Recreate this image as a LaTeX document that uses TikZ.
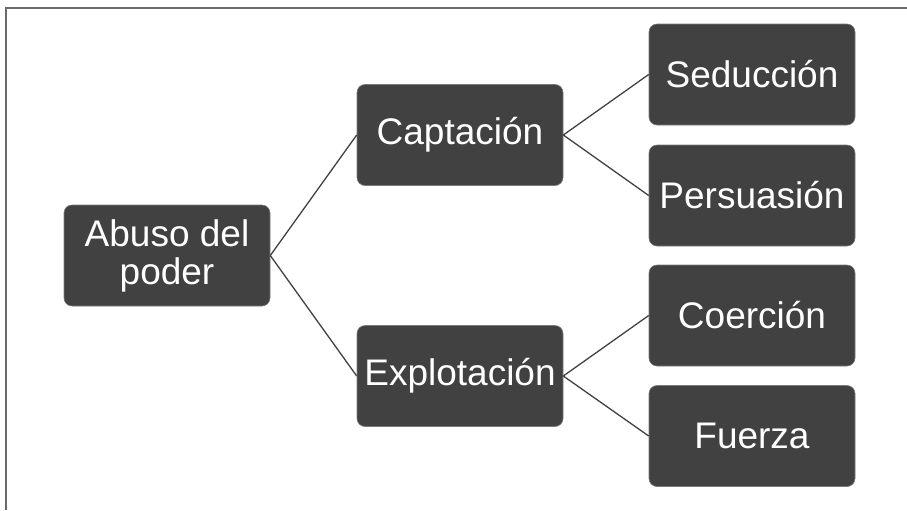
\documentclass[tikz,border=0pt]{standalone}
\usepackage{fontspec}
\setmainfont{Liberation Sans}
\usepackage{tikz}
\definecolor{boxgray}{HTML}{414141}
\definecolor{framegray}{HTML}{6A6A6A}
\tikzset{box/.style={draw=boxgray!70!white, line width=0.3pt, fill=boxgray, rounded corners=4pt, minimum width=103pt, minimum height=50.5pt, inner sep=0pt, align=center, text=white, font=\fontsize{18.5}{19}\selectfont}, link/.style={draw=boxgray, line width=0.65pt}, frame/.style={draw=framegray, line width=0.8pt}}

\begin{document}
\begin{tikzpicture}[x=0.5pt, y=-0.5pt]
    \useasboundingbox (0, 0) rectangle (907, 510);
    \draw[frame] (907, 8) -- (6, 8) -- (6, 510);
    \node[box] (abuso) at (167, 255.5) {Abuso del\\poder};
    \node[box] (captacion) at (460, 135) {Captación};
    \node[box] (explotacion) at (460, 376) {Explotación};
    \node[box] (seduccion) at (752, 74.5) {Seducción};
    \node[box] (persuasion) at (752, 195.5) {Persuasión};
    \node[box] (coercion) at (752, 315.5) {Coerción};
    \node[box] (fuerza) at (752, 436) {Fuerza};
    \path[link]
    	(abuso.east) edge (captacion.west)
    	(abuso.east) edge (explotacion.west)
    	(captacion.east) edge (seduccion.west)
    	(captacion.east) edge (persuasion.west)
    	(explotacion.east) edge (coercion.west)
    	(explotacion.east) edge (fuerza.west)
    	;
\end{tikzpicture}
\end{document}
